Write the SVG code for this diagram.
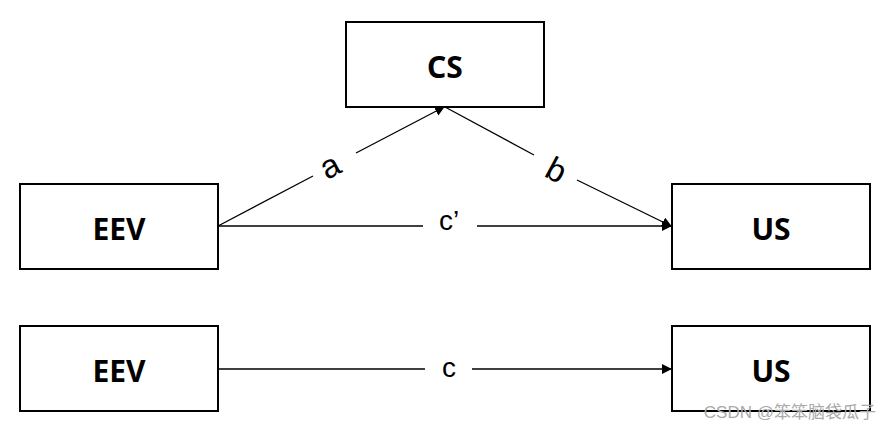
<svg xmlns="http://www.w3.org/2000/svg" width="892" height="431" viewBox="0 0 892 431">
<style>
.box{fill:#fff;stroke:#000;stroke-width:2}
.t{font-family:"Noto Sans","Liberation Sans",sans-serif;font-weight:bold;font-size:30px;text-anchor:middle;fill:#000}
.l{font-family:"Liberation Sans",sans-serif;font-size:28px;text-anchor:middle;fill:#000}
.c{stroke:#000;stroke-width:1.3;fill:none}
</style>
<defs><marker id="ah" markerWidth="10" markerHeight="10" refX="9" refY="5" orient="auto" markerUnits="userSpaceOnUse"><path d="M0,0L10,5L0,10z" fill="#000"/></marker></defs>
<rect width="892" height="431" fill="#fff"/>
<g id="connectors">
<line class="c" x1="218" y1="226" x2="313" y2="176"/>
<line class="c" x1="356" y1="153" x2="444" y2="107" marker-end="url(#ah)"/>
<line class="c" x1="445" y1="107" x2="534" y2="155"/>
<line class="c" x1="577" y1="180" x2="671" y2="226" marker-end="url(#ah)"/>
<line class="c" x1="218" y1="226" x2="423" y2="226"/>
<line class="c" x1="477" y1="226" x2="671" y2="226" marker-end="url(#ah)"/>
<line class="c" x1="218" y1="369" x2="425" y2="369"/>
<line class="c" x1="472" y1="369" x2="671" y2="369" marker-end="url(#ah)"/>
<text class="l" style="font-size:33px" transform="translate(335,176) rotate(-28)">a</text>
<text class="l" style="font-size:33px" transform="translate(551,180) rotate(28)">b</text>
<text class="l" x="449" y="230">c’</text>
<text class="l" x="449" y="377">c</text>
</g>
<g id="cs"><rect class="box" x="346" y="22" width="198" height="85"/><text class="t" x="445" y="78">CS</text></g>
<g id="eev1"><rect class="box" x="20" y="184" width="198" height="85"/><text class="t" x="119" y="240">EEV</text></g>
<g id="us1"><rect class="box" x="672" y="184" width="198" height="85"/><text class="t" x="771" y="240">US</text></g>
<g id="eev2"><rect class="box" x="20" y="326" width="198" height="85"/><text class="t" x="119" y="382">EEV</text></g>
<g id="us2"><rect class="box" x="672" y="326" width="198" height="85"/><text class="t" x="771" y="382">US</text></g>
<text x="876" y="418" text-anchor="end" font-family="'Liberation Sans','Noto Sans CJK SC',sans-serif" font-size="17" fill="#aaa">CSDN @笨笨脑袋瓜子</text>
</svg>
